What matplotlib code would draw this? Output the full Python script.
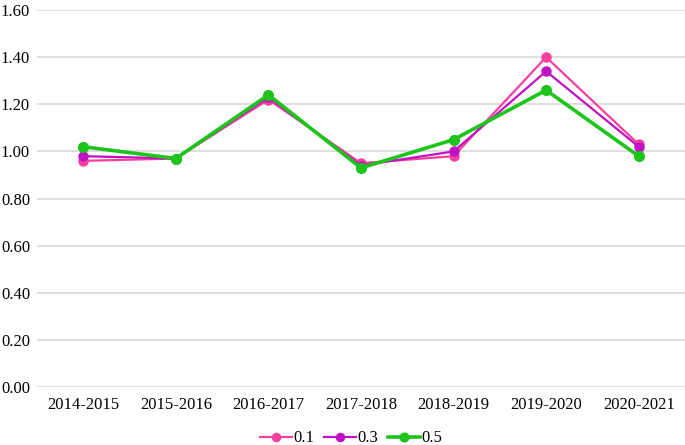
import matplotlib
matplotlib.use("Agg")
import matplotlib.pyplot as plt

# Data
seasons = ["2014-2015", "2015-2016", "2016-2017", "2017-2018",
           "2018-2019", "2019-2020", "2020-2021"]
series_labels = ["0.1", "0.3", "0.5"]
vals_01 = [0.96, 0.97, 1.22, 0.95, 0.98, 1.40, 1.03]
vals_03 = [0.98, 0.97, 1.23, 0.94, 1.00, 1.34, 1.02]
vals_05 = [1.02, 0.97, 1.24, 0.93, 1.05, 1.26, 0.98]
yticks = [0.0, 0.2, 0.4, 0.6, 0.8, 1.0, 1.2, 1.4, 1.6]

plt.rcParams['font.family'] = ['Liberation Serif', 'DejaVu Serif']

fig = plt.figure(figsize=(6.85, 4.45), dpi=100)
ax = fig.add_axes([0.054, 0.130, 0.946, 0.8475])

x = list(range(len(seasons)))
styles = [
    (vals_01, '#F7409E', 1.6, 6.5),
    (vals_03, '#C012C4', 1.6, 6.5),
    (vals_05, '#1CC41C', 2.6, 7.0),
]
for (vals, col, lw, ms), lab in zip(styles, series_labels):
    ax.plot(x, vals, color=col, linewidth=lw, marker='o', markersize=ms,
            label=lab)

ax.set_xlim(-0.5, len(seasons) - 0.5)
ax.set_ylim(0, 1.6)
ax.set_yticks(yticks)
ax.set_yticklabels([f"{v:.2f}" for v in yticks])
ax.set_xticks(x)
ax.set_xticklabels(seasons)
ax.tick_params(axis='both', length=0, labelsize=12, colors='black')
ax.tick_params(axis='x', pad=7)
ax.tick_params(axis='y', pad=5)
ax.grid(axis='y', color='#d9d9d9', linewidth=1.2)
ax.set_axisbelow(True)
for s in ax.spines.values():
    s.set_visible(False)

ax.legend(loc='upper center', bbox_to_anchor=(0.485, -0.075), ncol=3,
          frameon=False, fontsize=12, handlelength=1.9, handletextpad=0.1,
          columnspacing=0.6, markerscale=0.9)

fig.savefig("out.png", dpi=100)
